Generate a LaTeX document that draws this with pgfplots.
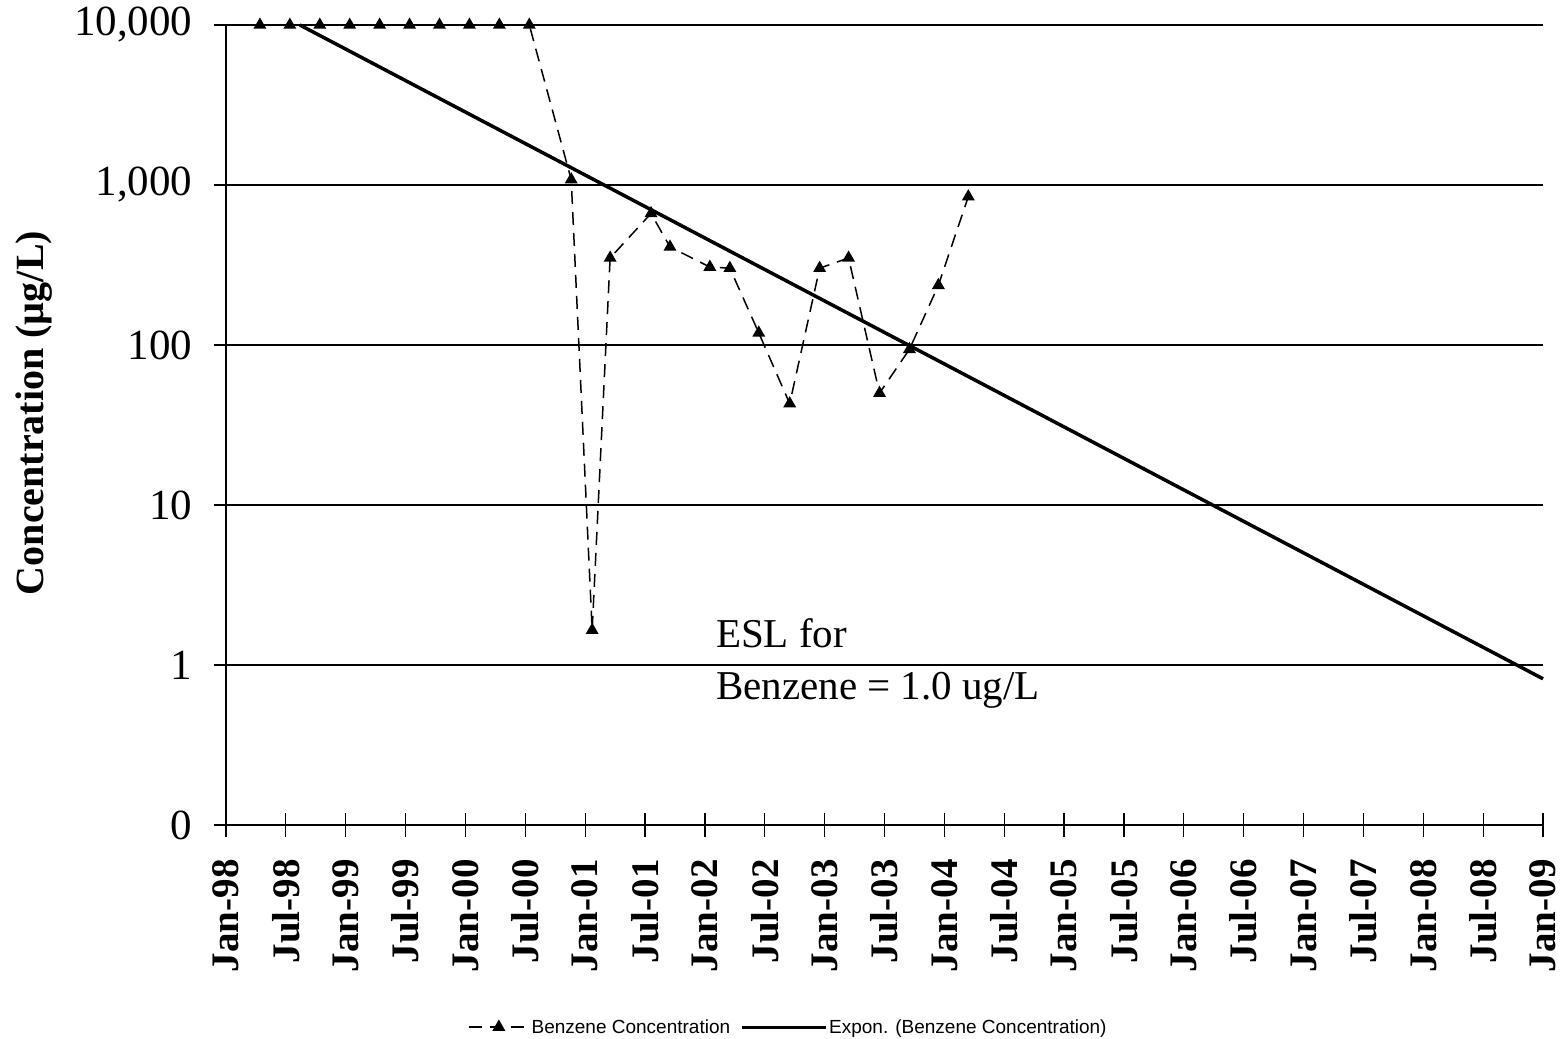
\documentclass[border=0pt]{standalone}
\usepackage{fontspec}
\setmainfont{Liberation Serif}
\newfontfamily\legendfont{Liberation Sans}
\usepackage{pgfplots}
\pgfplotsset{compat=1.18}
\pgfplotsset{
  legA/.style={legend image code/.code={\draw[mark repeat=2,mark phase=2,##1] plot coordinates {(0pt,0pt) (30pt,0pt) (60pt,0pt)};}},
  legB/.style={legend image code/.code={\draw[##1, line width=3pt] (0pt,0pt) -- (84pt,0pt);}},
}
\begin{document}
\begin{tikzpicture}
\useasboundingbox (0,0) rectangle (1562pt,1038pt);
\begin{axis}[
  at={(226pt,213pt)}, anchor=south west,
  scale only axis, width=1317pt, height=800pt,
  xmin=0, xmax=132,
  ymode=log, ymin=0.1, ymax=10000,
  axis lines*=left,
  xtick={0,6,...,132},
  xticklabels={Jan-98,Jul-98,Jan-99,Jul-99,Jan-00,Jul-00,Jan-01,Jul-01,Jan-02,Jul-02,Jan-03,Jul-03,Jan-04,Jul-04,Jan-05,Jul-05,Jan-06,Jul-06,Jan-07,Jul-07,Jan-08,Jul-08,Jan-09},
  ytick={0.1,1,10,100,1000,10000},
  yticklabels={0,1,10,100,{1,000},{10,000}},
  yminorticks=false,
  ymajorgrids, grid style={black, line width=1.2pt},
  tick align=center, major tick length=24pt,
  tick style={black, line width=1.2pt},
  axis line style={black, line width=1.2pt},
  xticklabel shift=19pt,
  yticklabel shift=18pt,
  xticklabel style={rotate=90, anchor=east, font=\fontsize{39}{42}\selectfont\bfseries},
  yticklabel style={anchor=east, font=\fontsize{43}{48}\selectfont},
  ylabel={Concentration (µg/L)},
  every axis y label/.style={at={(axis description cs:-0.146,0.515)}, rotate=90, anchor=center, font=\fontsize{40}{44}\selectfont\bfseries},
  clip=false,
  legend style={at={(axis description cs:0.427,-0.2525)}, anchor=center, draw=none, fill=none, legend columns=2, font=\legendfont\fontsize{19}{21}\selectfont, /tikz/every even column/.append style={column sep=8pt}},
]
\addplot[black, line width=1.5pt, dash pattern=on 13pt off 8pt, mark=triangle*, mark size=6pt, mark options={solid}, legA]
coordinates {
(3.4,10000) (6.4,10000) (9.4,10000) (12.4,10000) (15.4,10000) (18.4,10000) (21.4,10000) (24.4,10000) (27.4,10000) (30.4,10000)
(34.6,1080) (36.7,1.65) (38.5,350) (42.6,664) (44.5,410) (48.5,307) (50.5,302) (53.4,119) (56.5,43) (59.5,302) (62.4,350) (65.5,50) (68.5,94) (71.4,236) (74.4,845)
};
\addlegendentry{Benzene Concentration}
\addplot[black, line width=3.5pt, legB]
coordinates {(7.4,10000) (132,0.82)};
\addlegendentry{Expon. (Benzene Concentration)}
\node[anchor=north west, align=left, inner sep=0pt, font=\fontsize{41}{52}\selectfont] at (axis cs:49.1,1.95) {ESL for\\Benzene = 1.0 ug/L};
\end{axis}
\end{tikzpicture}
\end{document}
